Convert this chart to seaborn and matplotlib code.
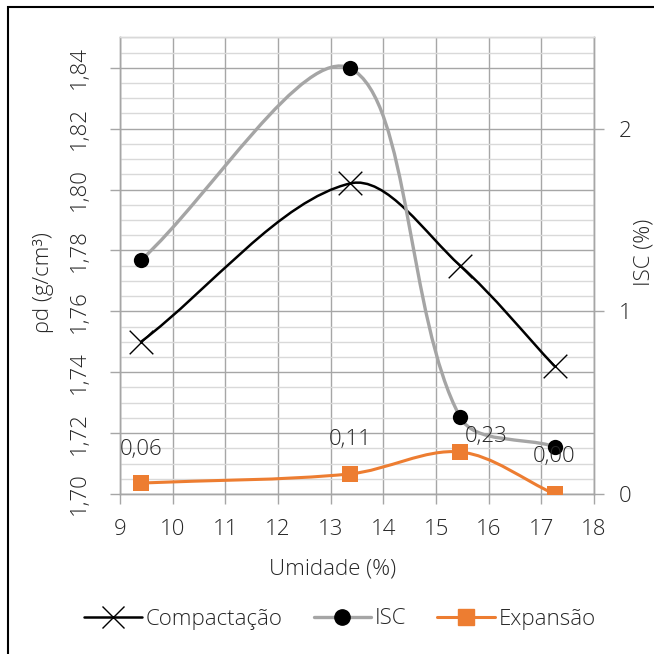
import numpy as np
import matplotlib
matplotlib.use("Agg")
import matplotlib.pyplot as plt
from matplotlib.path import Path
from matplotlib.patches import PathPatch, Rectangle
from matplotlib.lines import Line2D
from matplotlib.ticker import MultipleLocator, FuncFormatter
import seaborn as sns
import pandas as pd

# Ensaio de compactação, ISC e expansão
umidade = [9.40, 13.37, 15.46, 17.25]
densidade = [1.750, 1.802, 1.775, 1.742]
isc = [1.28, 2.33, 0.42, 0.26]
expansao = [0.06, 0.11, 0.23, 0.00]
rotulos_exp = ["0,06", "0,11", "0,23", "0,00"]

x_ticks = [9, 10, 11, 12, 13, 14, 15, 16, 17, 18]
rho_ticks = [1.70, 1.72, 1.74, 1.76, 1.78, 1.80, 1.82, 1.84]
isc_ticks = [0, 1, 2]

sns.set_theme(style="white")
plt.rcParams["font.family"] = ["Open Sans", "DejaVu Sans"]
plt.rcParams["font.weight"] = "light"
plt.rcParams["axes.labelweight"] = "light"

FS = 16
TXT = "#262626"
W = H = 654
fig = plt.figure(figsize=(W / 100, H / 100), dpi=100)
ax = fig.add_axes([120 / W, 1 - 494 / H, 474 / W, 456.7 / H])
ax.set_xlim(9, 18)
ax.set_ylim(1.70, 1.85)
ax2 = ax.twinx()
ax2.set_ylim(0, 2.5)

GRID = "#a6a6a6"
GRID_MINOR = "#d9d9d9"

ax.set_xticks(x_ticks)
ax.set_yticks(rho_ticks)
ax.yaxis.set_minor_locator(MultipleLocator(0.005))
ax.grid(which="major", color=GRID, lw=1.0)
ax.grid(which="minor", axis="y", color=GRID_MINOR, lw=1.0)
ax.set_axisbelow(True)
ax.yaxis.set_major_formatter(FuncFormatter(lambda v, p: f"{v:.2f}".replace(".", ",")))
ax.tick_params(axis="y", which="major", length=7, width=1, color=GRID, direction="out",
               left=True, labelsize=FS, labelrotation=90, pad=15)
ax.tick_params(axis="y", which="minor", length=0)
ax.tick_params(axis="x", length=7, width=1, color=GRID, direction="out", bottom=True,
               labelsize=FS, pad=11)
for lab in ax.get_yticklabels():
    lab.set_va("center")

ax2.set_yticks(isc_ticks)
ax2.tick_params(axis="y", length=7, width=1, color=GRID, direction="out", right=True,
                labelsize=FS, pad=11)
ax2.grid(False)

for a in (ax, ax2):
    for side, sp in a.spines.items():
        sp.set_color(GRID)
        sp.set_linewidth(1.0)
    a.spines["top"].set_color(GRID_MINOR)


def curva_suave(axis, xs, ys):
    """Bezier smoothing through the points, built in display space."""
    pts = axis.transData.transform(np.column_stack([xs, ys]))
    n = len(pts)

    def bracos(i):
        p0 = pts[i - 1] if i > 0 else pts[i]
        p2 = pts[i + 1] if i < n - 1 else pts[i]
        t = p2 - p0
        d0 = np.hypot(*(pts[i] - p0))
        d1 = np.hypot(*(p2 - pts[i]))
        s = d0 + d1
        return t * d0 / s / 3, t * d1 / s / 3

    verts = [pts[0]]
    codes = [Path.MOVETO]
    for i in range(n - 1):
        _, a_out = bracos(i)
        b_in, _ = bracos(i + 1)
        verts += [pts[i] + a_out, pts[i + 1] - b_in, pts[i + 1]]
        codes += [Path.CURVE4] * 3
    verts = axis.transData.inverted().transform(np.array(verts))
    return Path(verts, codes)


PRETO = "#000000"
CINZA = "#a5a5a5"
LARANJA = "#ed7d31"

df = pd.DataFrame({"umidade": umidade, "densidade": densidade,
                   "isc": isc, "expansao": expansao})

# Compactação (eixo principal)
ax.add_patch(PathPatch(curva_suave(ax, umidade, densidade), fill=False,
                       edgecolor=PRETO, lw=1.8, zorder=3))
sns.scatterplot(data=df, x="umidade", y="densidade", ax=ax, marker="x", s=17 ** 2,
                color=PRETO, linewidth=1.0, zorder=4, legend=False)

# ISC e expansão (eixo secundário)
ax2.add_patch(PathPatch(curva_suave(ax2, umidade, isc), fill=False,
                        edgecolor=CINZA, lw=2.4, zorder=3))
sns.scatterplot(data=df, x="umidade", y="isc", ax=ax2, marker="o", s=11 ** 2,
                color=PRETO, edgecolor=PRETO, linewidth=0, zorder=4, legend=False)
ax2.add_patch(PathPatch(curva_suave(ax2, umidade, expansao), fill=False,
                        edgecolor=LARANJA, lw=2.2, zorder=3))
sns.scatterplot(data=df, x="umidade", y="expansao", ax=ax2, marker="s", s=12 ** 2,
                color=LARANJA, edgecolor=LARANJA, linewidth=0, zorder=5, legend=False)

# Rótulos de dados da expansão
desloc = [(0, 24.5), (0, 24.5), (19, 11.5), (0, 27)]
for xv, yv, txt, (dx, dy) in zip(umidade, expansao, rotulos_exp, desloc):
    ax2.annotate(txt, (xv, yv), xytext=(dx, dy), textcoords="offset points",
                 ha="center", va="center", fontsize=FS, color=TXT, zorder=6)

ax.set_xlabel("Umidade (%)", fontsize=FS, color=TXT)
ax.set_ylabel("ρd (g/cm³)", fontsize=FS, color=TXT)
ax2.set_ylabel("ISC (%)", fontsize=FS, color=TXT)
ax.xaxis.set_label_coords((333 - 120) / 474, (494 - 569) / 456.7)
ax.yaxis.set_label_coords((43 - 120) / 474, (494 - 283) / 456.7)
ax2.yaxis.set_label_coords((644 - 120) / 474, (494 - 252) / 456.7)
ax.xaxis.label.set_va("center")
ax.yaxis.label.set_va("center")
ax2.yaxis.label.set_va("center")
ax2.yaxis.label.set_rotation(90)

for lab in ax.get_xticklabels() + ax.get_yticklabels() + ax2.get_yticklabels():
    lab.set_color(TXT)

handles = [
    Line2D([], [], color=PRETO, lw=1.8, marker="x", ms=16, mew=1.0),
    Line2D([], [], color=CINZA, lw=2.4, marker="o", ms=11, mfc=PRETO, mec=PRETO),
    Line2D([], [], color=LARANJA, lw=2.2, marker="s", ms=12, mfc=LARANJA, mec=LARANJA),
]
fig.legend(handles, ["Compactação", "ISC", "Expansão"], loc="center",
           bbox_to_anchor=(340 / W, 1 - 619 / H), bbox_transform=fig.transFigure,
           ncol=3, frameon=False, fontsize=FS, handlelength=2.6, handletextpad=0.15,
           columnspacing=1.4, labelcolor=TXT)

# Moldura do gráfico
fig.patches.append(Rectangle((8 / W, -0.05), 1.2, 1.05 - 7 / H, transform=fig.transFigure,
                             fill=False, edgecolor="black", lw=1.5))

fig.savefig("out.png", dpi=100)
